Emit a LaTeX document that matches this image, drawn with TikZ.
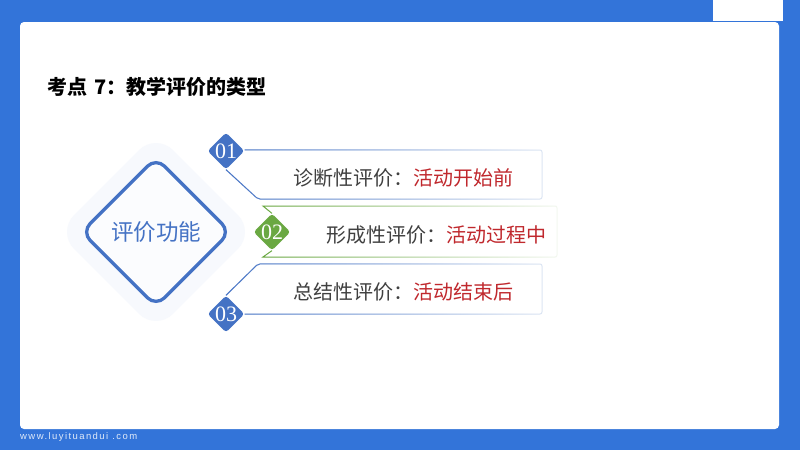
\documentclass[tikz,border=0pt]{standalone}
\usepackage{fontspec}
\setmainfont{Noto Sans CJK SC}
\newfontfamily\numfont{Liberation Serif}
\newfontfamily\webfont[LetterSpace=15]{Liberation Sans}
\usetikzlibrary{positioning,shapes.geometric,fadings}
\definecolor{bgblue}{HTML}{3374D9}
\definecolor{mainblue}{HTML}{4472C4}
\definecolor{palegreen}{HTML}{6AA842}
\definecolor{haloblue}{HTML}{F7F9FD}
\definecolor{darktext}{HTML}{404040}
\definecolor{redtext}{HTML}{C0282D}
\tikzset{
  numdiamond/.style = {diamond, aspect = 1, inner sep = 0pt, minimum size = 36pt, rounded corners = 3pt,
    text = white, font = \numfont\fontsize{22}{22}\selectfont},
  itemtext/.style = {anchor = west, inner sep = 0pt, text = darktext, font = \fontsize{20}{24}\selectfont},
  hilite/.style = {anchor = west, inner sep = 0pt, text = redtext, font = \fontsize{20}{24}\selectfont},
  baseblue/.style = {draw = mainblue!18, line width = 1pt, rounded corners = 2pt},
  fadeblue/.style = {draw = mainblue, line width = 1pt, rounded corners = 2pt, path fading = east},
  basegreen/.style = {draw = palegreen!8, line width = 1pt, rounded corners = 2pt},
  fadegreen/.style = {draw = palegreen, line width = 1pt, path fading = east}
}
\begin{document}
\begin{tikzpicture}[x = 1pt, y = -1pt]
\useasboundingbox (0,0) rectangle (800,450);
\fill[bgblue] (0,0) rectangle (800,450);
\fill[white, rounded corners = 4pt] (20,22) rectangle (779,429);
\fill[white] (713,0) rectangle (783,21);
\node[anchor = west, inner sep = 0pt, font = \fontsize{20}{24}\selectfont\bfseries] (title) at (47,87) {考点\hspace{3pt} 7：教学评价的类型};
\node[anchor = west, inner sep = 0pt, text = white!85!bgblue, font = \webfont\fontsize{9.5}{11}\selectfont] (web) at (20,437) {www.luyituandui .com};
% left diamond
\node[diamond, aspect = 1, inner sep = 0pt, minimum size = 198pt, fill = haloblue, rounded corners = 24pt] (halo) at (156,232) {};
\node[diamond, aspect = 1, inner sep = 0pt, minimum size = 150pt, draw = mainblue, line width = 3.3pt, fill = white!50!haloblue, rounded corners = 12pt,
  text = mainblue, font = \fontsize{22.5}{26}\selectfont] (main) at (156,232) {评价功能};
% item corners
\coordinate (a1) at (542,150);
\coordinate (a2) at (542,199);
\coordinate (a3) at (258,199);
\coordinate (b1) at (263,206);
\coordinate (b2) at (557,206);
\coordinate (b3) at (557,257);
\coordinate (b4) at (263,257);
\coordinate (c1) at (258,264);
\coordinate (c2) at (542,264);
\coordinate (c3) at (542,314);
% numbers
\node[numdiamond, fill = mainblue] (n1) at (226,151) {01};
\node[numdiamond, fill = palegreen] (n2) at (272,232) {02};
\node[numdiamond, fill = mainblue] (n3) at (226,314) {03};
\draw[baseblue] (n1.south) -- (a3) -- (a2) -- (a1) -- (n1.east |- a1);
\draw[fadeblue] (n1.south) -- (a3) -- (a2) -- (a1) -- (n1.east |- a1);
\draw[basegreen] (b1) -- (b2) -- (b3) -- (b4);
\draw[fadegreen] (n2.north) -- (b1) -- (b2);
\draw[fadegreen] (n2.south) -- (b4) -- (b3);
\draw[baseblue] (n3.north) -- (c1) -- (c2) -- (c3) -- (n3.east);
\draw[fadeblue] (n3.north) -- (c1) -- (c2) -- (c3) -- (n3.east);
% texts
\node[itemtext] (t1) at (293,178) {诊断性评价：};
\node[hilite] (h1) at (413,178) {活动开始前};
\node[itemtext] (t2) at (326,235) {形成性评价：};
\node[hilite] (h2) at (446,235) {活动过程中};
\node[itemtext] (t3) at (293,292) {总结性评价：};
\node[hilite] (h3) at (413,292) {活动结束后};
\end{tikzpicture}
\end{document}
